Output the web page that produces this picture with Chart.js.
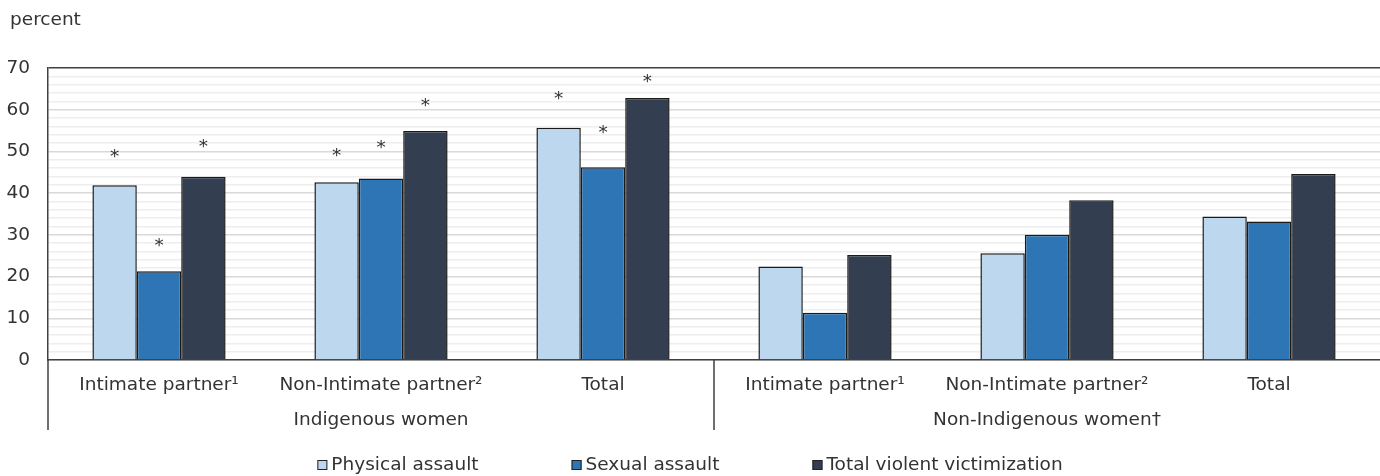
<!DOCTYPE html>
<html>
<head>
<meta charset="utf-8">
<script src="https://cdn.jsdelivr.net/npm/chart.js@4"></script>
<style>
  html, body { margin: 0; padding: 0; background: #fff; }
  #wrap { width: 1380px; height: 476px; }
</style>
</head>
<body>
<div id="wrap"><canvas id="chart"></canvas></div>
<script>
// categories and groups
var categories = ['Intimate partner\u00b9', 'Non-Intimate partner\u00b2', 'Total', 'Intimate partner\u00b9', 'Non-Intimate partner\u00b2', 'Total'];
var groups = ['Indigenous women', 'Non-Indigenous women\u2020'];
var seriesNames = ['Physical assault', 'Sexual assault', 'Total violent victimization'];

// values in percent
var physical = [41.9, 42.6, 55.7, 22.4, 25.6, 34.4];
var sexual = [21.3, 43.5, 46.2, 11.3, 30.0, 33.2];
var totalViolent = [43.9, 54.9, 62.8, 25.2, 38.3, 44.6];

// where the significance asterisks sit (null = no asterisk)
var physicalStar = [49.6, 49.7, 63.6, null, null, null];
var sexualStar = [28.3, 51.7, 55.3, null, null, null];
var totalStar = [52.0, 61.9, 67.5, null, null, null];

var yTicks = [0, 10, 20, 30, 40, 50, 60, 70];

var colors = ['#bdd7ee', '#2e75b6', '#333f50'];
var FONT = 'DejaVu Sans';
var FS = 18.5;
var TXT = '#333';

var stars = [physicalStar, sexualStar, totalStar];

var extras = {
  id: 'extras',
  afterDraw: function (chart) {
    var c = chart.ctx, a = chart.chartArea;
    var x = chart.scales.x, y = chart.scales.y;
    c.save();
    // axis extensions below the plot
    c.strokeStyle = '#404040';
    c.lineWidth = 1.5;
    c.beginPath();
    c.moveTo(a.left, a.bottom);
    c.lineTo(a.left, 430);
    var sep = (x.getPixelForValue(2) + x.getPixelForValue(3)) / 2;
    c.moveTo(sep, a.bottom);
    c.lineTo(sep, 430);
    c.stroke();
    // asterisks
    c.fillStyle = TXT;
    c.font = FS + 'px "' + FONT + '"';
    c.textAlign = 'center';
    c.textBaseline = 'middle';
    stars.forEach(function (arr, i) {
      var meta = chart.getDatasetMeta(i);
      arr.forEach(function (v, j) {
        if (v === null) return;
        c.fillText('*', meta.data[j].x, y.getPixelForValue(v) + 4);
      });
    });
    // unit label
    c.textAlign = 'left';
    c.fillText('percent', 10, 20);
    // legend
    var gap = 93, box = 10, tg = 4;
    var widths = seriesNames.map(function (s) { return box + tg + c.measureText(s).width; });
    var total = widths.reduce(function (p, w) { return p + w; }, 0) + gap * (widths.length - 1);
    var lx = (chart.width - total) / 2, ly = 465;
    seriesNames.forEach(function (s, i) {
      c.fillStyle = colors[i];
      c.fillRect(lx, ly - box / 2, box, box);
      c.strokeStyle = '#222';
      c.lineWidth = 1;
      c.strokeRect(lx + 0.5, ly - box / 2 + 0.5, box - 1, box - 1);
      c.fillStyle = TXT;
      c.fillText(s, lx + box + tg, ly);
      lx += widths[i] + gap;
    });
    c.restore();
  }
};

new Chart(document.getElementById('chart'), {
  type: 'bar',
  data: {
    labels: categories,
    datasets: [
      { label: seriesNames[0], data: physical, backgroundColor: colors[0] },
      { label: seriesNames[1], data: sexual, backgroundColor: colors[1] },
      { label: seriesNames[2], data: totalViolent, backgroundColor: colors[2] }
    ].map(function (d) {
      d.borderColor = '#1a1a1a';
      d.borderWidth = 1.5;
      d.borderSkipped = 'bottom';
      d.categoryPercentage = 0.6;
      d.barPercentage = 1.0;
      return d;
    })
  },
  plugins: [extras],
  options: {
    responsive: true,
    maintainAspectRatio: false,
    animation: false,
    layout: { padding: { top: 68, right: 0, bottom: 36, left: 0 } },
    plugins: { legend: { display: false }, tooltip: { enabled: false } },
    scales: {
      x: {
        weight: 0,
        grid: { display: false },
        border: { display: true, color: '#404040', width: 1.5 },
        ticks: { color: TXT, font: { family: FONT, size: FS }, padding: 6, maxRotation: 0, autoSkip: false },
        afterFit: function (s) { s.height = 36; }
      },
      x2: {
        type: 'category',
        labels: groups,
        position: 'bottom',
        weight: 1,
        grid: { display: false },
        border: { display: false },
        ticks: { color: TXT, font: { family: FONT, size: FS }, padding: 5, maxRotation: 0 },
        afterFit: function (s) { s.height = 44; }
      },
      y: {
        min: 0,
        max: 70,
        afterFit: function (s) { s.width = 48; },
        afterBuildTicks: function (s) {
          var t = [];
          for (var v = 0; v <= 70; v += 2) t.push({ value: v });
          s.ticks = t;
        },
        border: { display: true, color: '#404040', width: 1.5 },
        grid: {
          drawTicks: false,
          color: function (ctx) {
            var v = ctx.tick.value;
            if (v === 70) return '#404040';
            return v % 10 === 0 ? '#d9d9d9' : '#eeeeee';
          },
          lineWidth: 1.5
        },
        ticks: {
          autoSkip: false,
          color: TXT,
          font: { family: FONT, size: FS },
          padding: 18,
          callback: function (v) { return yTicks.indexOf(v) >= 0 ? v : ''; }
        }
      }
    }
  }
});
</script>
</body>
</html>
